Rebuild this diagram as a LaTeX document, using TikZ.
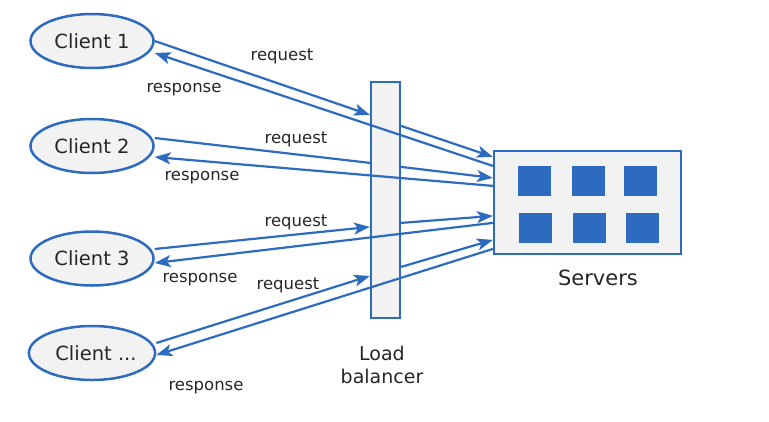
\documentclass[tikz,border=0pt]{standalone}
\usepackage{fontspec}
\setmainfont{DejaVu Sans}
\usetikzlibrary{shapes.geometric, arrows.meta, calc, positioning}
\definecolor{lbblue}{RGB}{44,107,191}
\definecolor{boxgray}{RGB}{242,242,242}
\definecolor{txtgray}{RGB}{38,38,38}

\begin{document}
\begin{tikzpicture}[x=1pt, y=-1pt,
    client/.style={ellipse, draw=lbblue, line width=2.5pt, fill=boxgray, minimum width=123pt, minimum height=54pt, inner sep=0pt, text=txtgray, font=\fontsize{19.5}{22}\selectfont},
    box/.style={rectangle, draw=lbblue, line width=2.2pt, fill=boxgray, inner sep=0pt},
    unit/.style={rectangle, fill=lbblue, minimum width=33pt, minimum height=30pt, inner sep=0pt},
    link/.style={draw=lbblue, line width=2.2pt, -{Stealth[length=16pt, width=12pt, inset=4pt]}},
    plain/.style={draw=lbblue, line width=2.2pt},
    lbl/.style={text=txtgray, font=\fontsize{16.5}{20}\selectfont, inner sep=0pt}
]
            \useasboundingbox (0,0) rectangle (769,421);

            % Clients
            \node[client] (c1) at (92,41) {Client 1};
            \node[client] (c2) at (92,146) {Client 2};
            \node[client] (c3) at (92,258.5) {Client 3};
            \node[client] (c4) at (92,353) {\hspace{8pt}Client ...};

            % Load balancer and servers
            \node[box, minimum width=29pt, minimum height=236pt] (lb) at (385.5,200) {};
            \node[box, minimum width=187pt, minimum height=103pt] (srv) at (587.5,202.5) {};
            \foreach \i/\x/\y in {1/534.5/180.5, 2/588.5/180.5, 3/640.5/180.5, 4/535.5/228, 5/589.5/228, 6/642.5/228}
                \node[unit] (u\i) at (\x,\y) {};

            \node[text=txtgray, font=\fontsize{21}{24}\selectfont] (srvtxt) at (598,278) {Servers};
            \node[text=txtgray, font=\fontsize{19}{23}\selectfont, align=center] (lbtxt) at (382,365) {Load\\balancer};

            % Requests: client -> load balancer -> servers
            \draw[link] (c1.east) -- ($(lb.north west)+(0,34)$);
            \draw[link] ($(lb.north east)+(0,45)$) -- ($(srv.north west)+(0,7)$);
            \draw[plain] ($(c2.east)+(0,-8)$) -- ($(lb.north west)+(0,82)$);
            \draw[link] ($(lb.north east)+(0,86)$) -- ($(srv.north west)+(0,28)$);
            \draw[link] ($(c3.east)+(0,-9.5)$) -- ($(lb.north west)+(0,146)$);
            \draw[link] ($(lb.north east)+(0,142)$) -- ($(srv.north west)+(0,66)$);
            \draw[link] ($(c4.east)+(0,-10)$) -- ($(lb.north west)+(0,195)$);
            \draw[link] ($(lb.north east)+(0,186)$) -- ($(srv.north west)+(0,90)$);

            % Responses: servers -> client
            \draw[link] ($(srv.north west)+(0,16)$) -- ($(c1.east)+(0,12)$);
            \draw[link] ($(srv.north west)+(0,36)$) -- ($(c2.east)+(0,11)$);
            \draw[link] ($(srv.north west)+(0,73)$) -- ($(c3.east)+(0,4.5)$);
            \draw[link] ($(srv.north west)+(0,99)$) -- ($(c4.east)+(0,2)$);

            % Labels
            \node[lbl] (req1) at (282,56) {request};
            \node[lbl] (res1) at (184,90) {response};
            \node[lbl] (req2) at (296,139) {request};
            \node[lbl] (res2) at (202,178) {response};
            \node[lbl] (req3) at (296,222) {request};
            \node[lbl] (res3) at (200,280) {response};
            \node[lbl] (req4) at (288,285) {request};
            \node[lbl] (res4) at (206,388) {response};
        \end{tikzpicture}
\end{document}
